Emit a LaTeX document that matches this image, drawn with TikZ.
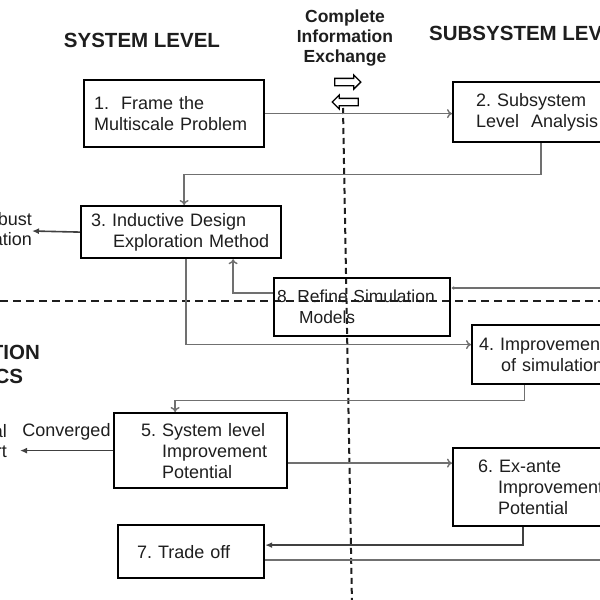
\documentclass[tikz,border=0pt]{standalone}
\usepackage{fontspec}
\setmainfont{Liberation Sans}
\usetikzlibrary{positioning,arrows.meta,shapes.arrows}

\definecolor{ink}{HTML}{1E1E1E}
\definecolor{wire}{HTML}{707070}

\tikzset{
  stage/.style={draw=black, line width=2.2pt, anchor=north west, align=left,
    inner xsep=0pt, inner ysep=0pt, text=ink, font=\fontsize{18}{21}\selectfont,
    execute at begin node={\frenchspacing\hyphenpenalty=10000\exhyphenpenalty=10000}},
  side/.style={align=right, inner sep=0pt, text=ink, font=\fontsize{18}{20}\selectfont},
  header/.style={font=\fontsize{20.5}{24}\selectfont\bfseries, text=ink, inner sep=0pt},
  flow/.style={draw=wire, line width=1.4pt, ->},
  flowout/.style={draw=ink!85, line width=1.6pt, -{Latex[length=7pt,width=6pt]}},
  xarrow/.style={single arrow, draw=black, fill=white, line width=1.3pt,
    minimum height=26pt, minimum width=13pt, inner sep=3pt, single arrow head extend=3.5pt},
  divider/.style={draw=ink, line width=2pt, dash pattern=on 8pt off 5pt},
}

\begin{document}
\begin{tikzpicture}[x=1pt, y=-1pt, >={To[length=5pt,width=9pt]}]
\path[use as bounding box, clip] (0,0) rectangle (600,600);
\fill[white] (0,0) rectangle (600,600);

% headers
\node[header] (syslvl) at (142,40) {SYSTEM LEVEL};
\node[header, anchor=west] (sublvl) at (429,33) {SUBSYSTEM LEVEL};
\node[header, anchor=east, align=left] (infoeco) at (40,364) {INFORMATION\\ECONOMICS};
\node[header, align=center, font=\fontsize{17.5}{20}\selectfont\bfseries] (exch) at (345,38) {Complete\\Information\\Exchange};
\node[xarrow] (xright) at (346,82) {};
\node[xarrow, shape border rotate=180] (xleft) at (347,102) {};

% dividers
\coordinate (vtop) at (343,108);
\coordinate (vbot) at (352,605);
\draw[divider, dash pattern=on 6pt off 4pt] (vtop) -- (vbot);
\coordinate (hleft) at (0,301);
\coordinate (hright) at (600,301);
\draw[divider] (hleft) -- (hright);

% stages
\node[stage, minimum width=180pt, minimum height=67pt, text width=160pt] (b1) at (83,79) {1.\ \ Frame the\\Multiscale Problem};
\node[stage, minimum width=190pt, minimum height=60pt, text width=144pt] (b2) at (452,81) {2. Subsystem\\Level\ \ Analysis};
\node[stage, minimum width=200pt, minimum height=52pt, text width=180pt] (b3) at (80,205) {3. Inductive Design\\\hspace*{22pt}Exploration~Method};
\node[stage, minimum width=176pt, minimum height=58pt, text width=170pt, font=\fontsize{17.4}{21}\selectfont] (b8) at (273,277) {8.~Refine~Simulation\\\hspace*{22pt}Models};
\node[stage, minimum width=170pt, minimum height=59pt, text width=156pt] (b4) at (471,324) {4. Improvements\\\hspace*{22pt}of simulations};
\node[stage, minimum width=173pt, minimum height=75pt, text width=119pt] (b5) at (113,412) {5.~System~level\\\hspace*{21pt}Improvement\\\hspace*{21pt}Potential};
\node[stage, minimum width=190pt, minimum height=78pt, text width=140pt] (b6) at (452,447) {6. Ex-ante\\\hspace*{20pt}Improvement\\\hspace*{20pt}Potential};
\node[stage, minimum width=146pt, minimum height=53pt, text width=108pt] (b7) at (117,524) {7. Trade off};

% side outputs
\node[side, anchor=east] (robust) at (32,231) {Robust\\Specification};
\node[side, anchor=east, inner xsep=13pt] (final) at (20,443) {Final\\Report};
\coordinate (ret8) at (610,288);
\coordinate (ret7) at (610,559);

% connectors
\draw[flow] (b1.east) -- (b1.east -| b2.west);
\draw[flow] ([xshift=-7pt]b2.south) -- ++(0,31) -| ([xshift=3pt]b3.north);
\draw[flowout] (b3.west) -- (robust.east);
\draw[flow] ([yshift=14pt]b8.west) -| ([xshift=52pt]b3.south);
\draw[flow] ([xshift=5pt]b3.south) |- ([yshift=10pt]b4.west);
\draw[flow, -{Latex[length=3pt,width=4pt]}] (ret8) -- (ret8 -| b8.east);
\draw[flow] ([xshift=-32.5pt]b4.south) -- ++(0,15) -| ([xshift=-25.5pt]b5.north);
\draw[flowout] (b5.west) -- (b5.west -| final.east)
  node[midway, above=10pt, side] (conv) {Converged};
\draw[flow] ([yshift=-12.5pt]b5.east) -- ([yshift=-12.5pt]b5.east -| b6.west);
\draw[flowout] ([xshift=-25pt]b6.south) |- ([yshift=6.5pt]b7.east);
\draw[flow, -] ([yshift=-8.5pt]b7.east) -- ([yshift=-8.5pt]b7.east -| ret7);
\end{tikzpicture}
\end{document}
